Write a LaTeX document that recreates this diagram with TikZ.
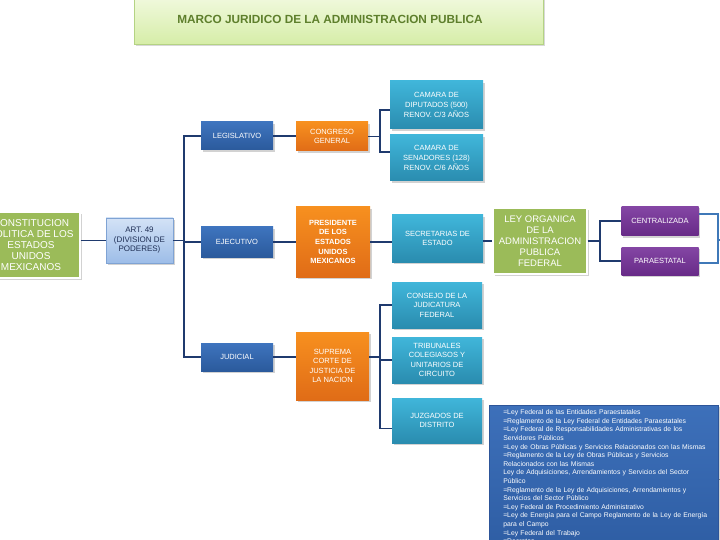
\documentclass[tikz,border=0pt]{standalone}
\usepackage{fontspec}
\setmainfont{Liberation Sans}
\usetikzlibrary{shadows}
\definecolor{navy}{HTML}{1F3A6E}
\definecolor{lblue}{HTML}{3F78B8}
\definecolor{grn}{HTML}{9BBB59}
\definecolor{blueT}{HTML}{3E74BE}
\definecolor{blueB}{HTML}{2B5A9C}
\definecolor{orT}{HTML}{F7901F}
\definecolor{orB}{HTML}{E06C17}
\definecolor{tealT}{HTML}{40B6DA}
\definecolor{tealB}{HTML}{2A8CAF}
\definecolor{purT}{HTML}{8446A4}
\definecolor{purB}{HTML}{682B88}
\definecolor{titlegreen}{HTML}{5E7F2C}
\definecolor{titleT}{HTML}{F0F9DC}
\definecolor{titleB}{HTML}{D6EDA8}
\definecolor{titleD}{HTML}{B4D383}
\definecolor{artT}{HTML}{D3E2F6}
\definecolor{artB}{HTML}{9DBDE8}
\definecolor{artD}{HTML}{7FA3D4}
\definecolor{artTxt}{HTML}{1F2F55}
\definecolor{bigT}{HTML}{3D70BA}
\definecolor{bigB}{HTML}{2D5CA2}
\definecolor{bigD}{HTML}{2D5599}
\newcommand{\lawline}[1]{\mbox{\hspace*{2pt}#1}}
\tikzset{
  box/.style={rectangle, align=center, inner sep=1pt, text=white,
    drop shadow={opacity=0.35, shadow xshift=1.5pt, shadow yshift=-2pt}},
  bluebox/.style={box, top color=blueT, bottom color=blueB,
    font=\fontsize{7.5}{9.5}\selectfont},
  orangebox/.style={box, top color=orT, bottom color=orB,
    font=\fontsize{7.5}{9.6}\selectfont},
  tealbox/.style={box, top color=tealT, bottom color=tealB,
    font=\fontsize{7.5}{9.6}\selectfont},
  purplebox/.style={box, top color=purT, bottom color=purB,
    font=\fontsize{7.5}{9.6}\selectfont},
  greenbox/.style={box, fill=grn, draw=white, line width=1.2pt},
  conn/.style={draw=navy, line width=1.3pt},
  conn2/.style={draw=lblue, line width=1.3pt},
}
\begin{document}
\begin{tikzpicture}[x=1pt,y=-1pt]
\useasboundingbox (0,0) rectangle (720,540);
\fill[white] (0,0) rectangle (720,540);

% title
\node[rectangle, top color=titleT, bottom color=titleB, draw=titleD,
  line width=0.8pt, minimum width=409, minimum height=46,
  drop shadow={opacity=0.3, shadow xshift=1.5pt, shadow yshift=-2pt}] (titlebg) at (338.5,21) {};
\node[font=\fontsize{11.8}{13}\selectfont\bfseries, text=titlegreen] (title) at (330,19)
  {MARCO JURIDICO DE LA ADMINISTRACION PUBLICA};

% left
\node[greenbox, minimum width=98, minimum height=66,
  font=\fontsize{10}{11}\selectfont] (const) at (31,245)
  {CONSTITUCION\\POLITICA DE LOS\\ESTADOS\\UNIDOS\\MEXICANOS};
\node[box, top color=artT, bottom color=artB, draw=artD, line width=0.8pt,
  text=artTxt, minimum width=67, minimum height=45,
  font=\fontsize{8}{9.5}\selectfont] (art) at (139.5,240.5)
  {ART. 49\\(DIVISION DE\\PODERES)};

% powers
\node[bluebox, minimum width=72, minimum height=28] (leg) at (237,136) {LEGISLATIVO};
\node[bluebox, minimum width=72, minimum height=30] (ejec) at (237,242) {EJECUTIVO};
\node[bluebox, minimum width=72, minimum height=28] (jud) at (237,357) {JUDICIAL};

\node[orangebox, minimum width=72, minimum height=29] (cong) at (332,136.5) {CONGRESO\\GENERAL};
\node[orangebox, minimum width=74, minimum height=70, font=\fontsize{7.5}{9.6}\selectfont\bfseries] (pres) at (333,242)
  {PRESIDENTE\\DE LOS\\ESTADOS\\UNIDOS\\MEXICANOS};
\node[orangebox, minimum width=73, minimum height=68] (sup) at (332.5,366)
  {SUPREMA\\CORTE DE\\JUSTICIA DE\\LA NACION};

\node[tealbox, minimum width=93, minimum height=48] (dip) at (436.5,105)
  {CAMARA DE\\DIPUTADOS (500)\\RENOV. C/3 AÑOS};
\node[tealbox, minimum width=93, minimum height=46] (sen) at (436.5,158)
  {CAMARA DE\\SENADORES (128)\\RENOV. C/6 AÑOS};
\node[tealbox, minimum width=91, minimum height=47] (sec) at (437.5,238.5)
  {SECRETARIAS DE\\ESTADO};
\node[tealbox, minimum width=90, minimum height=46] (cons) at (437,305)
  {CONSEJO DE LA\\JUDICATURA\\FEDERAL};
\node[tealbox, minimum width=90, minimum height=46] (trib) at (437,360)
  {TRIBUNALES\\COLEGIASOS Y\\UNITARIOS DE\\CIRCUITO};
\node[tealbox, minimum width=90, minimum height=45] (juz) at (437,420.5)
  {JUZGADOS DE\\DISTRITO};

\node[greenbox, minimum width=94, minimum height=66,
  font=\fontsize{9.5}{11}\selectfont] (ley) at (540,241)
  {LEY ORGANICA\\DE LA\\ADMINISTRACION\\PUBLICA\\FEDERAL};
\node[purplebox, minimum width=77, minimum height=29] (cen) at (660,221) {CENTRALIZADA};
\node[purplebox, minimum width=77, minimum height=28] (par) at (660,261) {PARAESTATAL};

\node[box, anchor=north west, top color=bigT, bottom color=bigB,
  draw=bigD, line width=0.5pt,
  minimum width=229, text width=205, align=left, inner xsep=12, inner ysep=4.5,
  font=\fontsize{6.8}{8.6}\selectfont] (big) at (489,405)
  {\lawline{=Ley Federal de las Entidades Paraestatales}\\
   \lawline{=Reglamento de la Ley Federal de Entidades Paraestatales}\\
   \lawline{=Ley Federal de Responsabilidades Administrativas de los}\\
   \lawline{Servidores Públicos}\\
   \lawline{=Ley de Obras Públicas y Servicios Relacionados con las Mismas}\\
   \lawline{=Reglamento de la Ley de Obras Públicas y Servicios}\\
   \lawline{Relacionados con las Mismas}\\
   \lawline{Ley de Adquisiciones, Arrendamientos y Servicios del Sector}\\
   \lawline{Público}\\
   \lawline{=Reglamento de la Ley de Adquisiciones, Arrendamientos y}\\
   \lawline{Servicios del Sector Público}\\
   \lawline{=Ley Federal de Procedimiento Administrativo}\\
   \lawline{=Ley de Energía para el Campo Reglamento de la Ley de Energía}\\
   \lawline{para el Campo}\\
   \lawline{=Ley Federal del Trabajo}\\
   \lawline{=Decretos}\\
   \strut};

% connectors
\coordinate (spx) at (184,0);
\coordinate (bx1) at (380,0);
\coordinate (bx2) at (600,0);
\coordinate (rb) at (718,0);
\coordinate (offr) at (726,240);
\coordinate (offb) at (726,479);

\draw[conn] (const.east |- art.west) -- (art.west);
\draw[conn] (art.east) -- (art.east -| spx);
\draw[conn] (leg.west) -- (leg.west -| spx) -- (jud.west -| spx) -- (jud.west);
\draw[conn] (ejec.west) -- (ejec.west -| spx);
\draw[conn] (leg.east) -- (cong.west |- leg.east);
\draw[conn] (ejec.east) -- (pres.west |- ejec.east);
\draw[conn] (jud.east) -- (sup.west |- jud.east);

\draw[conn] (cong.east) -- (cong.east -| bx1);
\draw[conn] ([yshift=-5pt]dip.west) -- ([yshift=-5pt]dip.west -| bx1)
  -- ([yshift=6pt]sen.west -| bx1) -- ([yshift=6pt]sen.west);

\draw[conn] (pres.east) -- (pres.east -| sec.west);
\draw[conn] (sec.east |- ley.west) -- (ley.west);

\draw[conn] (sup.east |- jud.east) -- (jud.east -| bx1);
\draw[conn] (cons.west) -- (cons.west -| bx1) -- ([yshift=-8pt]juz.west -| bx1) -- ([yshift=-8pt]juz.west);
\draw[conn] (trib.west) -- (trib.west -| bx1);

\draw[conn] (ley.east) -- (ley.east -| bx2);
\draw[conn] (cen.west) -- (cen.west -| bx2) -- (par.west -| bx2) -- (par.west);

\draw[conn2] ([yshift=7pt]cen.east) -- ([yshift=7pt]cen.east -| rb)
  -- ([yshift=-2pt]par.east -| rb) -- ([yshift=-2pt]par.east);
\draw[conn2] (offr -| rb) -- (offr);
\draw[draw=gray, line width=1pt] (big.east |- offb) -- (offb);
\end{tikzpicture}
\end{document}
